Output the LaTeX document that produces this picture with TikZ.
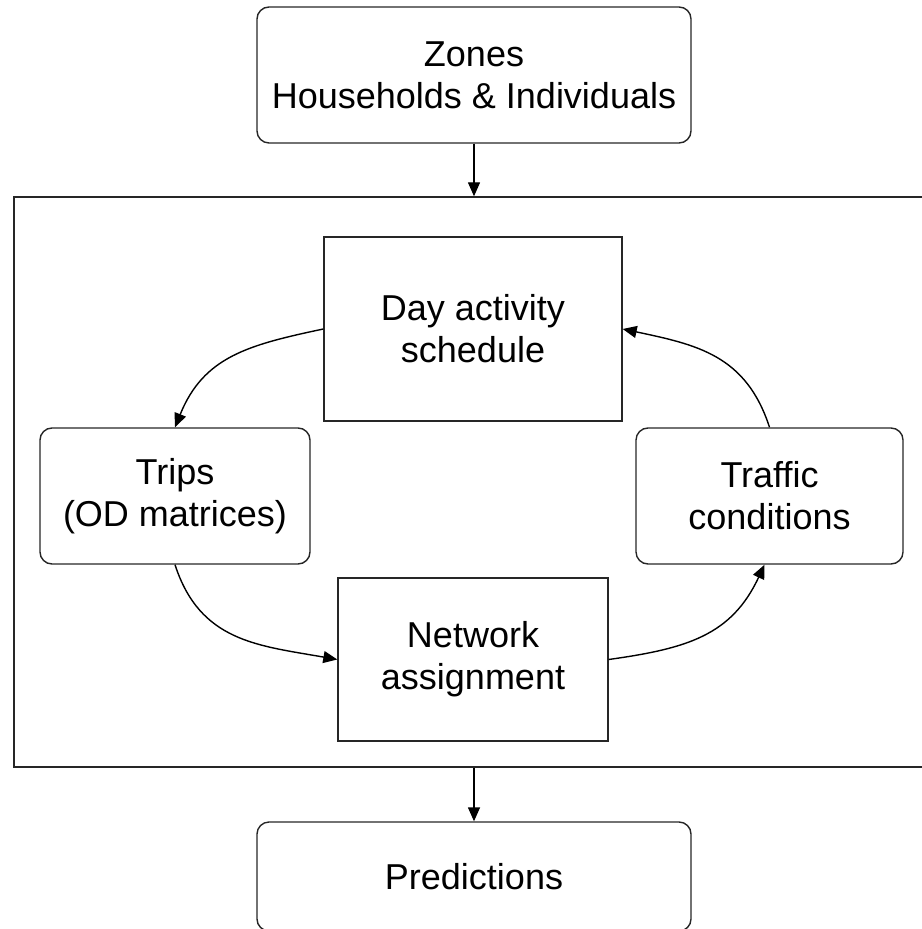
\documentclass[tikz,border=0pt]{standalone}
\usepackage{fontspec}
\setmainfont{Liberation Sans}
\usetikzlibrary{arrows.meta}
\tikzset{
  box/.style={draw=black!85,line width=0.7pt,align=center,inner sep=0pt,
    font=\fontsize{18}{21}\selectfont},
  rbox/.style={box,rounded corners=6pt},
  arr/.style={draw=black,line width=0.7pt,-{Triangle[length=7pt,width=6pt]}}
}
\begin{document}
\begin{tikzpicture}[x=0.5pt,y=-0.5pt]
\useasboundingbox (0,0) rectangle (921,929);
\node[rbox,minimum width=217pt,minimum height=68pt] (zones) at (474,75) {Zones\\Households \& Individuals};
\node[box,minimum width=460pt,minimum height=285pt] (loop) at (474,482) {};
\node[box,minimum width=149pt,minimum height=92pt] (day) at (473,329) {Day activity\\schedule};
\node[rbox,minimum width=135pt,minimum height=68pt] (trips) at (175,496) {Trips\\(OD matrices)};
\node[rbox,minimum width=133.5pt,minimum height=68pt] (traffic) at (769.5,496) {Traffic\\conditions};
\node[box,minimum width=135pt,minimum height=81.5pt] (network) at (473,659.5) {Network\\assignment};
\node[rbox,minimum width=217pt,minimum height=54.5pt] (pred) at (474,876.5) {Predictions};
\draw[arr] (zones.south)--(loop.north);
\draw[arr] (loop.south)--(pred.north);
\draw[arr] (day.west) to[out=192,in=68,looseness=1.1] (trips.north);
\draw[arr] (trips.south) to[out=-72,in=170,looseness=1.1] (network.west);
\draw[arr] (network.east) to[out=8,in=-115,looseness=1.1] ([xshift=-2.5pt]traffic.south);
\draw[arr] (traffic.north) to[out=108,in=-12,looseness=1.1] (day.east);
\end{tikzpicture}
\end{document}
